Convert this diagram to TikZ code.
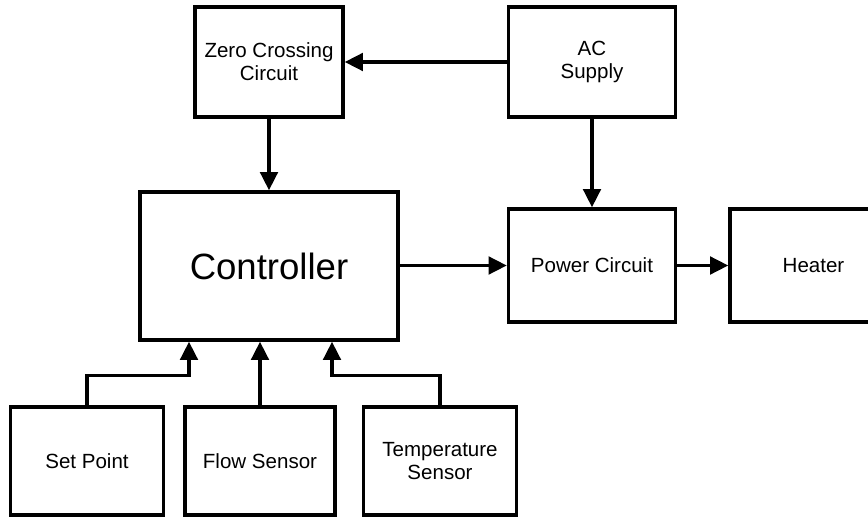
\documentclass[tikz,border=0pt]{standalone}
\usepackage{fontspec}
\setmainfont{Liberation Sans}
\usetikzlibrary{arrows.meta,calc}
\definecolor{InkBlack}{HTML}{000000}

\begin{document}
\begin{tikzpicture}[x=0.025cm,y=-0.025cm,line width=2.4pt,>={Triangle[length=13pt,width=12.5pt]},every node/.style={font=\fontsize{14.6}{16.5}\selectfont,text=InkBlack},blk/.style={draw=InkBlack,fill=white,align=center,inner sep=0pt,minimum height=2.75cm},link/.style={->,draw=InkBlack}]
\clip(0,0)rectangle(868,518);\fill[white](0,0)rectangle(868,518);
\node[blk,minimum width=3.7cm](zc)at(269,62){Zero Crossing\\Circuit};\node[blk,minimum width=4.175cm](ac)at(592,62){AC\\Supply};
\node[blk,minimum width=6.45cm,minimum height=3.7cm,font=\fontsize{26}{30}\selectfont](ctrl)at(269,266){Controller};
\node[blk,minimum width=4.175cm,minimum height=2.825cm](pwr)at(592,265.5){Power Circuit};\node[blk,minimum width=4.175cm,minimum height=2.825cm](heat)at(813.5,265.5){Heater};
\node[blk,minimum width=3.825cm,minimum height=2.7cm](setp)at(87,461){Set Point};\node[blk,minimum width=3.75cm,minimum height=2.7cm](flow)at(260,461){Flow Sensor};\node[blk,minimum width=3.825cm,minimum height=2.7cm](temp)at(440,461){Temperature\\Sensor};
\coordinate(inSet)at($(ctrl.south)+(-80,0)$);\coordinate(inTemp)at($(ctrl.south)+(63,0)$);
\draw[link](ac)--(zc);\draw[link](zc)--(ctrl);\draw[link](ac)--(pwr);\draw[link](ctrl.east|-pwr.west)--(pwr.west);\draw[link](pwr)--(heat);
\draw[link](setp.north)--++(0,-30)-|(inSet);\draw[link](flow.north)--(flow.north|-ctrl.south);\draw[link](temp.north)--++(0,-30)-|(inTemp);
\end{tikzpicture}
\end{document}
